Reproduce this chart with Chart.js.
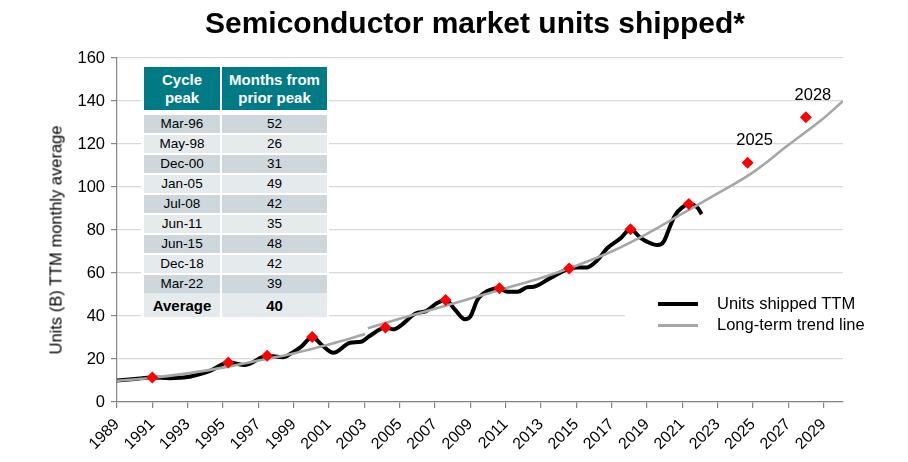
<!DOCTYPE html>
<html>
<head>
<meta charset="utf-8">
<script src="https://cdn.jsdelivr.net/npm/chart.js@4.4.0/dist/chart.umd.min.js"></script>
<style>
  body { margin: 0; background: #fff; font-family: "Liberation Sans", Arial, sans-serif; }
  #wrap { position: relative; width: 908px; height: 462px; overflow: hidden; }
  #title { position: absolute; left: 0; top: 5px; width: 950px; text-align: center; font-weight: bold; font-size: 30px; line-height: 35px; color: #000; }
  #ytitle { position: absolute; left: 56px; top: 240px; transform: translate(-50%, -50%) rotate(-90deg); white-space: nowrap; font-size: 16.5px; color: #000; }
  #tablebox { position: absolute; left: 141px; top: 62px; width: 188px; height: 258px; background: #fff; }
  .cell { position: absolute; display: flex; align-items: center; justify-content: center; text-align: center; color: #000; font-size: 13.5px; }
  .head { background: #007B86; color: #fff; font-weight: bold; font-size: 15px; line-height: 18px; }
  .dark { background: #CDD7DC; }
  .light { background: #E5EBED; }
  .avg { font-weight: bold; font-size: 15px; }
  #legendbox { position: absolute; left: 625px; top: 288px; width: 220px; height: 56px; background: #fff; }
  .lg { position: absolute; left: 92px; font-size: 16.5px; color: #000; white-space: nowrap; }
  .lgline { position: absolute; left: 33px; width: 40px; }
</style>
</head>
<body>
<div id="wrap">
  <canvas id="myChart" width="908" height="462"></canvas>
  <div id="title">Semiconductor market units shipped*</div>
  <div id="ytitle">Units (B) TTM monthly average</div>
  <div id="tablebox"></div>
  <div id="legendbox">
    <div class="lgline" style="top:14px;height:4px;background:#000;"></div>
    <div class="lg" style="top:6px;">Units shipped TTM</div>
    <div class="lgline" style="top:36px;height:3px;background:#A6A6A6;"></div>
    <div class="lg" style="top:27px;">Long-term trend line</div>
  </div>
</div>
<script>
// units shipped TTM (billions)
const unitsYears = [1989, 1990, 1991, 1992, 1993, 1993.7, 1994.3, 1995.3, 1996.25, 1997.5, 1998.4, 1998.9, 1999.4, 2000.05, 2000.6, 2001.25, 2002.2, 2002.8, 2003.3, 2004.2, 2004.65, 2005.1, 2005.9, 2006.5, 2007.1, 2007.6, 2008.15, 2008.7, 2009.0, 2009.4, 2009.75, 2010.6, 2011.1, 2011.7, 2012.2, 2012.6, 2013.5, 2014.6, 2015.05, 2015.6, 2016.2, 2016.75, 2017.5, 2018.07, 2018.6, 2019.0, 2019.6, 2019.95, 2020.3, 2020.6, 2021.0, 2021.37, 2021.85, 2022.1];
const unitsValues = [10.0, 10.7, 11.4, 11.1, 11.6, 13.0, 14.6, 18.4, 17.2, 21.5, 20.8, 22.8, 25.5, 30.1, 26.5, 22.9, 27.6, 28.0, 30.7, 34.7, 33.8, 35.8, 41.2, 42.3, 45.9, 47.4, 42.8, 38.5, 39.7, 47.4, 50.5, 52.9, 51.3, 51.3, 53.3, 53.6, 57.5, 62.1, 62.6, 62.6, 66.0, 71.5, 76.1, 80.3, 76.6, 74.6, 73.0, 74.6, 81.5, 87.0, 90.5, 92.1, 90.5, 87.4];

// long-term trend line (null = break in the line)
const trendYears = [1989, 1991, 1993, 1995, 1997, 1999, 2001, 2003.05, 2003.1, 2003.2, 2005, 2007, 2009, 2011, 2013, 2015, 2017, 2019, 2021, 2023, 2025, 2027, 2029, 2030.1];
const trendValues = [9.8, 11.3, 13.3, 16.0, 19.3, 22.6, 26.8, 31.6, null, 34.3, 38.7, 43.4, 48.1, 52.9, 57.7, 63.4, 70.0, 78.2, 87.6, 97.0, 106.8, 119.5, 132.0, 140.0];

// cycle peaks and forecasts
const peakYears = [1991.0, 1995.3, 1997.5, 2000.05, 2004.2, 2007.6, 2010.65, 2014.6, 2018.07, 2021.37, 2024.7, 2028.0];
const peakValues = [11.4, 18.4, 21.5, 30.2, 34.7, 47.4, 52.9, 62.1, 80.3, 92.1, 111.3, 132.4];
const peakLabels = ['', '', '', '', '', '', '', '', '', '', '2025', '2028'];

const xTicks = [1989, 1991, 1993, 1995, 1997, 1999, 2001, 2003, 2005, 2007, 2009, 2011, 2013, 2015, 2017, 2019, 2021, 2023, 2025, 2027, 2029];

// table
const cyclePeaks = ['Mar-96', 'May-98', 'Dec-00', 'Jan-05', 'Jul-08', 'Jun-11', 'Jun-15', 'Dec-18', 'Mar-22'];
const monthsFromPrior = [52, 26, 31, 49, 42, 35, 48, 42, 39];
const averageMonths = 40;

function buildTable() {
    const box = document.getElementById('tablebox');
    const add = (cls, text, x, y, w, h) => {
        const d = document.createElement('div');
        d.className = 'cell ' + cls;
        d.style.left = x + 'px';
        d.style.top = y + 'px';
        d.style.width = w + 'px';
        d.style.height = h + 'px';
        d.innerHTML = text;
        box.appendChild(d);
    };
    add('head', 'Cycle<br>peak', 3, 5, 76, 43);
    add('head', 'Months from<br>prior peak', 81, 5, 105, 43);
    cyclePeaks.forEach((p, i) => {
        const cls = i % 2 === 0 ? 'dark' : 'light';
        const y = 53 + i * 20;
        add(cls, p, 3, y, 76, 17.7);
        add(cls, String(monthsFromPrior[i]), 81, y, 105, 17.7);
    });
    add('light avg', 'Average', 3, 231, 76, 24);
    add('light avg', String(averageMonths), 81, 231, 105, 24);
}
buildTable();

const toPoints = (xs, ys) => xs.map((x, i) => ({ x: x, y: ys[i] }));

const peakLabelPlugin = {
    id: 'peakLabels',
    afterDatasetsDraw(chart) {
        const meta = chart.getDatasetMeta(0);
        const c = chart.ctx;
        c.save();
        c.fillStyle = '#000';
        c.font = '16.5px "Liberation Sans", Arial, sans-serif';
        c.textAlign = 'center';
        c.textBaseline = 'middle';
        meta.data.forEach((pt, i) => {
            if (peakLabels[i]) c.fillText(peakLabels[i], pt.x + 7, pt.y - 22);
        });
        c.restore();
    }
};

const ctx = document.getElementById('myChart').getContext('2d');
const myChart = new Chart(ctx, {
    type: 'line',
    data: {
        datasets: [
            {
                label: 'Cycle peaks',
                data: toPoints(peakYears, peakValues),
                showLine: false,
                pointStyle: 'rectRot',
                pointRadius: 6,
                pointBackgroundColor: '#FF0000',
                pointBorderWidth: 0,
                order: 0
            },
            {
                label: 'Long-term trend line',
                data: toPoints(trendYears, trendValues),
                borderColor: '#A6A6A6',
                borderWidth: 2.6,
                pointRadius: 0,
                tension: 0.4,
                spanGaps: false,
                order: 1
            },
            {
                label: 'Units shipped TTM',
                data: toPoints(unitsYears, unitsValues),
                borderColor: '#000000',
                borderWidth: 4,
                pointRadius: 0,
                cubicInterpolationMode: 'monotone',
                order: 2
            }
        ]
    },
    options: {
        responsive: false,
        animation: false,
        layout: { padding: { top: 58, right: 65, left: 0, bottom: 0 } },
        plugins: {
            legend: { display: false },
            tooltip: { enabled: false },
            title: { display: false }
        },
        scales: {
            x: {
                type: 'linear',
                min: 1989,
                max: 2030.1,
                afterBuildTicks: scale => { scale.ticks = xTicks.map(v => ({ value: v })); },
                afterFit: scale => { scale.height = 60; },
                grid: { drawOnChartArea: false, drawTicks: true, tickLength: 6, tickColor: '#868686', lineWidth: 1.2 },
                border: { color: '#868686', width: 1.2 },
                ticks: {
                    autoSkip: false,
                    maxRotation: 45,
                    minRotation: 45,
                    padding: 7,
                    color: '#000',
                    font: { family: '"Liberation Sans", Arial, sans-serif', size: 16 },
                    callback: v => String(v)
                }
            },
            y: {
                min: 0,
                max: 160,
                afterFit: scale => { scale.width = 117; },
                ticks: {
                    stepSize: 20,
                    color: '#000',
                    padding: 6,
                    font: { family: '"Liberation Sans", Arial, sans-serif', size: 16.5 }
                },
                grid: { color: '#D9D9D9', lineWidth: 1.2, tickColor: '#868686', tickLength: 6 },
                border: { color: '#868686', width: 1.2 }
            }
        }
    },
    plugins: [peakLabelPlugin]
});
</script>
</body>
</html>
